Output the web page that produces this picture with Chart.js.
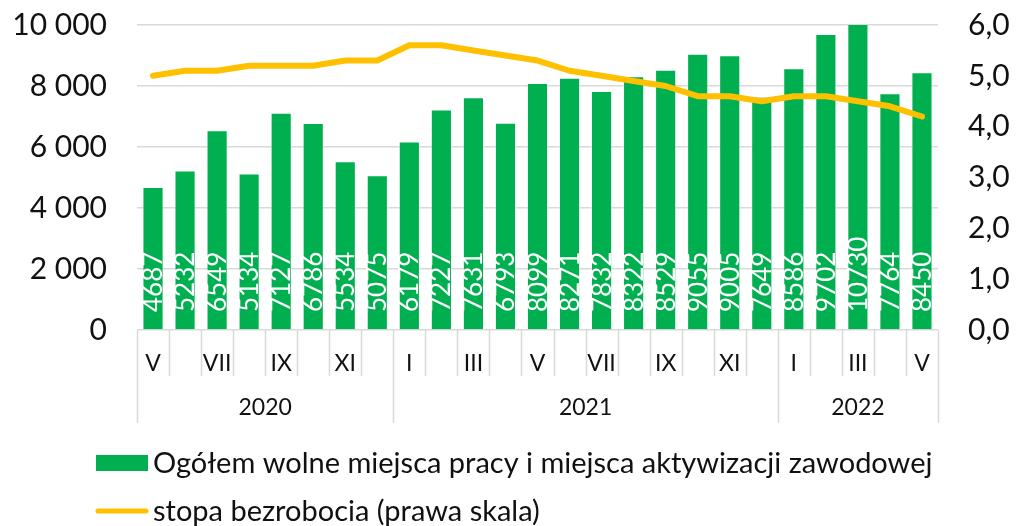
<!DOCTYPE html>
<html lang="pl">
<head>
<meta charset="utf-8">
<script src="https://cdn.jsdelivr.net/npm/chart.js@4.4.1/dist/chart.umd.min.js"></script>
<style>
    html, body { margin: 0; padding: 0; background: #fff; }
    #wrap { width: 1016px; height: 526px; }
</style>
</head>
<body>
<div id="wrap"><canvas id="chart" width="1016" height="526"></canvas></div>
<script>
    const months = ['V', 'VI', 'VII', 'VIII', 'IX', 'X', 'XI', 'XII',
        'I', 'II', 'III', 'IV', 'V', 'VI', 'VII', 'VIII', 'IX', 'X', 'XI', 'XII',
        'I', 'II', 'III', 'IV', 'V'];
    const years = ['2020', '2020', '2020', '2020', '2020', '2020', '2020', '2020',
        '2021', '2021', '2021', '2021', '2021', '2021', '2021', '2021', '2021', '2021', '2021', '2021',
        '2022', '2022', '2022', '2022', '2022'];
    const vacancies = [4687, 5232, 6549, 5134, 7127, 6786, 5534, 5075,
        6179, 7227, 7631, 6793, 8099, 8271, 7832, 8322, 8529, 9055, 9005, 7649,
        8586, 9702, 10730, 7764, 8450];
    const unemployment = [5.0, 5.1, 5.1, 5.2, 5.2, 5.2, 5.3, 5.3,
        5.6, 5.6, 5.5, 5.4, 5.3, 5.1, 5.0, 4.9, 4.8, 4.6, 4.6, 4.5,
        4.6, 4.6, 4.5, 4.4, 4.2];
    const leftTicks = [0, 2000, 4000, 6000, 8000, 10000];
    const rightTicks = [0, 1, 2, 3, 4, 5, 6];

    const green = '#00B050';
    const gold = '#FFC000';
    const gridColor = '#d9d9d9';
    const textColor = '#111111';

    function spaced(v) {
        return String(v).replace(/\B(?=(\d{3})+(?!\d))/g, ' ');
    }

    // white values written upwards from the bottom of each bar
    const barLabels = {
        id: 'barLabels',
        afterDatasetsDraw(chart) {
            const ctx = chart.ctx;
            const meta = chart.getDatasetMeta(0);
            ctx.save();
            ctx.fillStyle = '#ffffff';
            ctx.font = '26px Lato';
            ctx.textAlign = 'left';
            ctx.textBaseline = 'middle';
            meta.data.forEach((bar, i) => {
                ctx.save();
                ctx.translate(Math.round(bar.x) + 1, Math.round(bar.base) - 17);
                ctx.rotate(-Math.PI / 2);
                ctx.fillText(String(vacancies[i]), 0, 0);
                ctx.restore();
            });
            ctx.restore();
        }
    };

    // month separators and the year row under the x axis
    const groupAxis = {
        id: 'groupAxis',
        afterDraw(chart) {
            const ctx = chart.ctx;
            const x = chart.scales.x;
            const bottom = chart.chartArea.bottom;
            const n = months.length;
            const half = (x.getPixelForValue(1) - x.getPixelForValue(0)) / 2;
            const edge = i => i < n ? x.getPixelForValue(i) - half : x.getPixelForValue(n - 1) + half;

            ctx.save();
            ctx.strokeStyle = gridColor;
            ctx.lineWidth = 1.5;
            for (let i = 0; i <= n; i++) {
                const yearEdge = i === 0 || i === n || years[i] !== years[i - 1];
                const px = Math.round(edge(i)) + 0.5;
                ctx.beginPath();
                ctx.moveTo(px, bottom);
                ctx.lineTo(px, bottom + (yearEdge ? 93 : 46));
                ctx.stroke();
            }

            ctx.fillStyle = textColor;
            ctx.font = '23px Lato';
            ctx.textAlign = 'center';
            ctx.textBaseline = 'middle';
            let start = 0;
            for (let i = 1; i <= n; i++) {
                if (i === n || years[i] !== years[start]) {
                    ctx.fillText(years[start], (edge(start) + edge(i)) / 2, bottom + 78);
                    start = i;
                }
            }
            ctx.restore();
        }
    };

    // legend rows, left aligned like the original
    const sideLegend = {
        id: 'sideLegend',
        afterDraw(chart) {
            const ctx = chart.ctx;
            const sets = chart.data.datasets;
            const rows = [chart.height - 63, chart.height - 15];
            ctx.save();
            ctx.font = '29px Lato';
            ctx.textAlign = 'left';
            ctx.textBaseline = 'middle';
            ctx.fillStyle = green;
            ctx.fillRect(96, rows[0] - 8, 52, 16);
            ctx.strokeStyle = gold;
            ctx.lineWidth = 5;
            ctx.lineCap = 'round';
            ctx.beginPath();
            ctx.moveTo(98, rows[1]);
            ctx.lineTo(146, rows[1]);
            ctx.stroke();
            ctx.fillStyle = textColor;
            ctx.fillText(sets[0].label, 153, rows[0] + 1);
            ctx.fillText(sets[1].label, 153, rows[1] + 1);
            ctx.restore();
        }
    };

    const ctxMain = document.getElementById('chart').getContext('2d');
    const mainChart = new Chart(ctxMain, {
        data: {
            labels: months,
            datasets: [{
                type: 'bar',
                label: 'Ogółem wolne miejsca pracy i miejsca aktywizacji zawodowej',
                data: vacancies,
                backgroundColor: green,
                borderColor: 'rgba(255, 255, 255, 0.45)',
                borderWidth: 1,
                barPercentage: 0.66,
                categoryPercentage: 1,
                yAxisID: 'y',
                order: 2
            }, {
                type: 'line',
                label: 'stopa bezrobocia (prawa skala)',
                data: unemployment,
                borderColor: gold,
                backgroundColor: gold,
                borderWidth: 6,
                pointRadius: 0,
                tension: 0,
                borderCapStyle: 'round',
                borderJoinStyle: 'round',
                yAxisID: 'y1',
                order: 1
            }]
        },
        options: {
            responsive: false,
            animation: false,
            devicePixelRatio: 1,
            layout: {
                padding: { top: 25, bottom: 103, left: 0, right: 0 }
            },
            plugins: {
                legend: { display: false },
                tooltip: { enabled: false }
            },
            scales: {
                x: {
                    offset: true,
                    grid: { display: false, drawTicks: false },
                    border: { display: false },
                    ticks: {
                        autoSkip: false,
                        maxRotation: 0,
                        padding: 20,
                        color: textColor,
                        font: { family: 'Lato', size: 23 },
                        callback: (v, i) => i % 2 === 0 ? months[i] : ''
                    },
                    afterFit: scale => { scale.height = 93; }
                },
                y: {
                    position: 'left',
                    min: leftTicks[0],
                    max: leftTicks[leftTicks.length - 1],
                    afterBuildTicks: scale => { scale.ticks = leftTicks.map(v => ({ value: v })); },
                    grid: { color: gridColor, lineWidth: 1.5, drawTicks: false },
                    border: { display: false },
                    ticks: {
                        padding: 30,
                        color: textColor,
                        font: { family: 'Lato', size: 30 },
                        callback: v => spaced(v)
                    },
                    afterFit: scale => {
                        scale.width = 137;
                        scale.paddingTop = 0;
                        scale.paddingBottom = 0;
                    }
                },
                y1: {
                    position: 'right',
                    min: rightTicks[0],
                    max: rightTicks[rightTicks.length - 1],
                    afterBuildTicks: scale => { scale.ticks = rightTicks.map(v => ({ value: v })); },
                    grid: { drawOnChartArea: false, drawTicks: false },
                    border: { display: false },
                    ticks: {
                        padding: 30,
                        color: textColor,
                        font: { family: 'Lato', size: 30 },
                        callback: v => v.toFixed(1).replace('.', ',')
                    },
                    afterFit: scale => {
                        scale.width = 78;
                        scale.paddingTop = 0;
                        scale.paddingBottom = 0;
                    }
                }
            }
        },
        plugins: [barLabels, groupAxis, sideLegend]
    });
</script>
</body>
</html>
